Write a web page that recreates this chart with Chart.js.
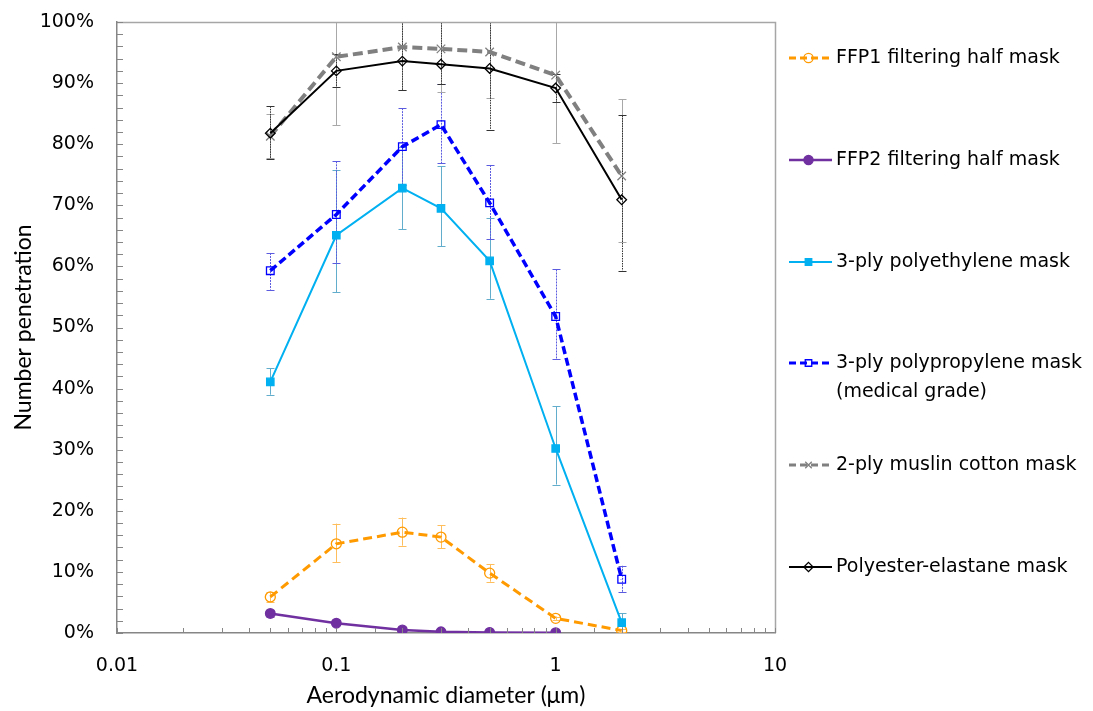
<!DOCTYPE html>
<html>
<head>
<meta charset="utf-8">
<script src="https://cdn.jsdelivr.net/npm/chart.js@4.4.1/dist/chart.umd.min.js"></script>
<style>
  html, body { margin: 0; padding: 0; background: #ffffff; }
  #wrap { width: 1093px; height: 711px; }
</style>
</head>
<body>
<div id="wrap"><canvas id="c" width="1093" height="711"></canvas></div>
<script>
// ---------------- DATA ----------------
const diameters = [0.05, 0.1, 0.2, 0.3, 0.5, 1, 2];           // µm
const xTickLabels = ['0.01', '0.1', '1', '10'];

const seriesNames = [
  'FFP1 filtering half mask',
  'FFP2 filtering half mask',
  '3-ply polyethylene mask',
  ['3-ply polypropylene mask', '(medical grade)'],
  '2-ply muslin cotton mask',
  'Polyester-elastane mask'
];

const ffp1       = [5.9, 14.6, 16.5, 15.7, 9.8, 2.4, 0.4];
const ffp1Plus   = [0.8, 3.3, 2.4, 1.9, 1.5, 0.3, 0.2];
const ffp1Minus  = [0.8, 3.0, 2.2, 1.8, 1.4, 0.3, 0.2];

const ffp2       = [3.2, 1.6, 0.5, 0.2, 0.1, 0.05];
const ffp2Plus   = [0.5, 0.2, 0.1, 0.1, 0.05, 0.05];
const ffp2Minus  = [0.5, 0.2, 0.1, 0.1, 0.05, 0.05];

const pe         = [41.1, 65.1, 72.8, 69.5, 60.9, 30.2, 1.7];
const pePlus     = [2.2, 10.7, 6.7, 6.9, 7.0, 6.9, 1.5];
const peMinus    = [2.1, 9.3, 6.7, 6.2, 6.2, 5.9, 1.7];

const pp         = [59.3, 68.5, 79.6, 83.2, 70.4, 51.8, 8.8];
const ppPlus     = [2.9, 8.7, 6.3, 6.7, 6.2, 7.7, 2.2];
const ppMinus    = [3.1, 8.0, 6.3, 6.3, 5.9, 6.9, 2.1];

const muslin      = [81.3, 94.3, 95.9, 95.6, 95.1, 91.3, 74.8];
const muslinPlus  = [3.6, 11.2, 7.0, 7.0, 7.6, 11.1, 12.6];
const muslinMinus = [3.6, 11.2, 7.0, 7.0, 7.6, 11.1, 10.8];

const polyester      = [81.8, 92.0, 93.6, 93.1, 92.4, 89.2, 70.9];
const polyesterPlus  = [4.4, 2.7, 7.0, 8.0, 10.0, 2.3, 13.8];
const polyesterMinus = [4.2, 2.7, 4.8, 3.2, 10.0, 2.3, 11.6];

// ---------------- STYLES ----------------
const styles = [
  { color: '#FF9A00', width: 3,   dash: [9, 5], point: 'circle',   radius: 5,   fill: false, errColor: '#FFBE5C', errDash: [] },
  { color: '#7030A0', width: 2.5, dash: [],     point: 'circle',   radius: 4.8, fill: true,  errColor: '#9467BD', errDash: [] },
  { color: '#00B0F0', width: 2,   dash: [],     point: 'rect',     radius: 5.2, fill: true,  errColor: '#62ADCB', errDash: [] },
  { color: '#0000FF', width: 3.5, dash: [8, 4], point: 'rect',     radius: 5.4, fill: false, errColor: '#5B5BE0', errDash: [2, 1] },
  { color: '#808080', width: 4,   dash: [10, 5],point: 'crossRot', radius: 6,   fill: false, errColor: '#A8A8A8', errDash: [] },
  { color: '#000000', width: 2,   dash: [],     point: 'rectRot',  radius: 4.8, fill: false, errColor: '#333333', errDash: [1.5, 1] }
];

const values = [ffp1, ffp2, pe, pp, muslin, polyester];
const plus   = [ffp1Plus, ffp2Plus, pePlus, ppPlus, muslinPlus, polyesterPlus];
const minus  = [ffp1Minus, ffp2Minus, peMinus, ppMinus, muslinMinus, polyesterMinus];

const datasets = values.map((vals, i) => {
  const s = styles[i];
  return {
    label: Array.isArray(seriesNames[i]) ? seriesNames[i].join(' ') : seriesNames[i],
    data: vals.map((v, j) => ({ x: diameters[j], y: v })),
    borderColor: s.color,
    borderWidth: s.width,
    borderDash: s.dash,
    pointStyle: s.point,
    pointRadius: s.radius,
    pointBorderWidth: 1.3,
    pointBorderColor: s.color,
    pointBackgroundColor: s.fill ? s.color : 'rgba(0,0,0,0)',
    tension: 0,
    fill: false,
    order: 10 - i
  };
});

// ---------------- PLUGINS ----------------
const errorBars = {
  id: 'errorBars',
  beforeDatasetsDraw(chart) {
    const { ctx, chartArea: a, scales: { x, y } } = chart;
    ctx.save();
    ctx.beginPath();
    ctx.rect(a.left, a.top, a.right - a.left, a.bottom - a.top);
    ctx.clip();
    values.forEach((vals, i) => {
      const s = styles[i];
      ctx.strokeStyle = s.errColor;
      ctx.lineWidth = 1;
      vals.forEach((v, j) => {
        const px = Math.round(x.getPixelForValue(diameters[j])) + 0.5;
        const top = y.getPixelForValue(v + plus[i][j]);
        const bot = y.getPixelForValue(v - minus[i][j]);
        ctx.setLineDash(s.errDash);
        ctx.beginPath();
        ctx.moveTo(px, top); ctx.lineTo(px, bot);
        ctx.stroke();
        ctx.setLineDash([]);
        ctx.beginPath();
        ctx.moveTo(px - 4, Math.round(top) + 0.5); ctx.lineTo(px + 4, Math.round(top) + 0.5);
        ctx.moveTo(px - 4, Math.round(bot) + 0.5); ctx.lineTo(px + 4, Math.round(bot) + 0.5);
        ctx.stroke();
      });
    });
    ctx.restore();
  }
};

function drawMarker(ctx, s, cx, cy) {
  ctx.save();
  ctx.setLineDash([]);
  ctx.lineWidth = 1.3;
  ctx.strokeStyle = s.color;
  ctx.fillStyle = s.color;
  const r = s.radius;
  ctx.beginPath();
  if (s.point === 'circle') {
    ctx.arc(cx, cy, r, 0, Math.PI * 2);
  } else if (s.point === 'rect') {
    const h = r * Math.SQRT1_2;
    ctx.rect(cx - h, cy - h, 2 * h, 2 * h);
  } else if (s.point === 'rectRot') {
    ctx.moveTo(cx, cy - r); ctx.lineTo(cx + r, cy); ctx.lineTo(cx, cy + r); ctx.lineTo(cx - r, cy); ctx.closePath();
  } else if (s.point === 'crossRot') {
    const h = r * Math.SQRT1_2;
    ctx.moveTo(cx - h, cy - h); ctx.lineTo(cx + h, cy + h);
    ctx.moveTo(cx + h, cy - h); ctx.lineTo(cx - h, cy + h);
  }
  if (s.fill) ctx.fill();
  ctx.stroke();
  ctx.restore();
}

const frame = {
  id: 'frame',
  afterDraw(chart) {
    const { ctx, chartArea: a, scales: { x, y } } = chart;
    ctx.save();
    // top and right border
    ctx.strokeStyle = '#A6A6A6';
    ctx.lineWidth = 1.5;
    ctx.beginPath();
    ctx.moveTo(a.left, a.top + 0.5); ctx.lineTo(a.right + 0.5, a.top + 0.5); ctx.lineTo(a.right + 0.5, a.bottom);
    ctx.stroke();
    // inside ticks
    ctx.strokeStyle = '#868686';
    ctx.lineWidth = 1;
    ctx.beginPath();
    x.ticks.forEach(t => {
      const px = Math.round(x.getPixelForValue(t.value)) + 0.5;
      ctx.moveTo(px, a.bottom); ctx.lineTo(px, a.bottom - 5);
    });
    for (let v = 0; v <= 100; v += 2) {
      const py = Math.round(y.getPixelForValue(v)) + 0.5;
      ctx.moveTo(a.left, py); ctx.lineTo(a.left + 6, py);
    }
    ctx.stroke();

    // legend
    const rows = [58, 160, 262, 363, 465, 567];
    const lx0 = 789, lx1 = 832, tx = 836;
    ctx.font = '19px "DejaVu Sans"';
    ctx.textBaseline = 'middle';
    ctx.textAlign = 'left';
    rows.forEach((ry, i) => {
      const s = styles[i];
      ctx.strokeStyle = s.color;
      ctx.lineWidth = Math.min(s.width, 3);
      ctx.setLineDash(s.dash.length ? [7, 4] : []);
      ctx.beginPath();
      ctx.moveTo(lx0, ry); ctx.lineTo(lx1, ry);
      ctx.stroke();
      ctx.setLineDash([]);
      drawMarker(ctx, Object.assign({}, s, { radius: Math.min(s.radius, 4.6) }), (lx0 + lx1) / 2 - 2, ry);
      ctx.fillStyle = '#000';
      const name = seriesNames[i];
      if (Array.isArray(name)) {
        name.forEach((line, k) => ctx.fillText(line, tx, ry + k * 29));
      } else {
        ctx.fillText(name, tx, ry);
      }
    });
    ctx.restore();
  }
};

// ---------------- CHART ----------------
const tickFont = { family: '"DejaVu Sans"', size: 19 };
const titleFont = { family: 'Lato', size: 23 };

new Chart(document.getElementById('c'), {
  type: 'line',
  data: { datasets },
  options: {
    responsive: false,
    animation: false,
    devicePixelRatio: 1,
    layout: { padding: { left: 0, right: 318, top: 22, bottom: 0 } },
    plugins: { legend: { display: false }, tooltip: { enabled: false } },
    scales: {
      x: {
        type: 'logarithmic',
        min: 0.01,
        max: 10,
        grid: { display: false, drawTicks: false },
        border: { display: true, color: '#868686', width: 1.5 },
        ticks: {
          autoSkip: false,
          maxRotation: 0,
          padding: 22,
          color: '#000',
          font: tickFont,
          callback: function (v) {
            const l = Math.log10(v);
            if (Math.abs(l - Math.round(l)) > 1e-9) return '';
            const idx = Math.round(l) + 2;
            return xTickLabels[idx] !== undefined ? xTickLabels[idx] : '';
          }
        },
        title: { display: true, text: 'Aerodynamic diameter (\u03bcm)', color: '#000', font: titleFont, padding: { top: 0, bottom: 2 } },
        afterFit: s => { s.height = 78; s.paddingLeft = 0; s.paddingRight = 0; }
      },
      y: {
        min: 0,
        max: 100,
        grid: { display: false, drawTicks: false },
        border: { display: true, color: '#868686', width: 1.5 },
        ticks: {
          stepSize: 10,
          padding: 23,
          color: '#000',
          font: tickFont,
          callback: v => Math.round(v) + '%'
        },
        title: { display: true, text: 'Number penetration', color: '#000', font: titleFont, padding: { top: 10, bottom: 0 } },
        afterFit: s => { s.width = 117; s.paddingTop = 0; s.paddingBottom = 0; }
      }
    }
  },
  plugins: [errorBars, frame]
});
</script>
</body>
</html>
